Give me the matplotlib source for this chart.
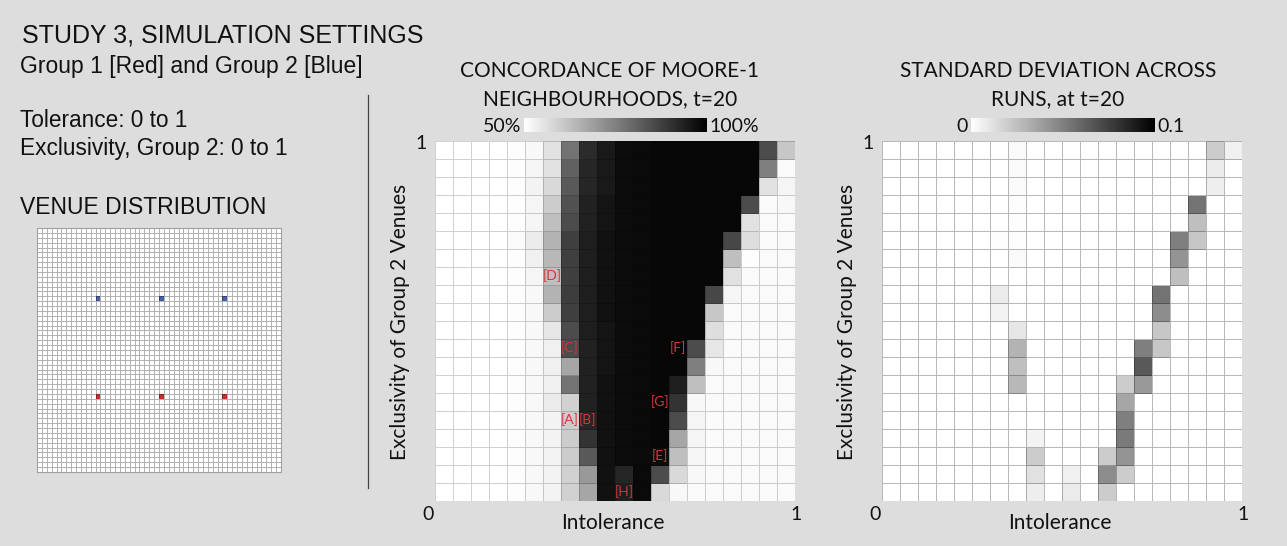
import numpy as np
import matplotlib
matplotlib.use("Agg")
import matplotlib.pyplot as plt
from matplotlib.colors import ListedColormap, Normalize

# Concordance of Moore-1 neighbourhoods (%), rows listed top (exclusivity=1) to bottom
concordance = [
    [50, 50, 50, 50, 50.5, 51.5, 56, 77.5, 91.5, 95, 97.5, 98, 98.5, 98.5, 98.5, 98.5, 98.5, 98.5, 85, 61],
    [50, 50, 50, 50, 50.5, 52, 56, 81, 92.5, 95, 97.5, 98, 98.5, 98.5, 98.5, 98.5, 98.5, 98.5, 75, 51],
    [50, 50, 50, 50, 50.5, 52.5, 57.5, 82.5, 92.5, 95, 97.5, 98, 98.5, 98.5, 98.5, 98.5, 98.5, 98.5, 56, 52],
    [50, 50, 50, 50, 50.5, 52, 60, 84, 93.5, 96, 97.5, 98, 98.5, 98.5, 98.5, 98.5, 98.5, 85, 51, 51.5],
    [50, 50, 50, 50, 50.5, 52, 62.5, 85, 93.5, 96, 97.5, 98, 98.5, 98.5, 98.5, 98.5, 98.5, 56, 51, 51],
    [50, 50, 50, 50, 51, 54, 65, 87.5, 94, 96.5, 97.5, 98, 98.5, 98.5, 98.5, 98.5, 86, 56.5, 51, 51],
    [50, 50, 50, 50, 50.5, 53, 64, 87.5, 94, 96.5, 97.5, 98, 98.5, 98.5, 98.5, 98.5, 62.5, 50.5, 51, 51],
    [50, 50, 50, 50, 50.5, 52, 62.5, 87.5, 94, 96.5, 97.5, 98, 98.5, 98.5, 98.5, 98.5, 56, 51, 51, 51],
    [50, 50, 50, 50, 50.5, 51.5, 65, 88, 94, 96.5, 97.5, 98, 98.5, 98.5, 98.5, 86, 52, 51, 51, 51],
    [50, 50, 50, 50, 50.5, 51.5, 60, 87.5, 94, 96.5, 97.5, 98, 98.5, 98.5, 98.5, 61, 51, 51, 51, 51],
    [50, 50, 50, 50, 50.5, 51.5, 55, 85, 94, 96, 97.5, 98, 98.5, 98.5, 98.5, 56.5, 51, 51, 51, 51],
    [50, 50, 50, 50, 50.5, 51.5, 53, 85, 93.5, 96, 97.5, 98, 98.5, 98.5, 85, 55, 51, 51, 51, 51],
    [50, 50, 50, 50, 50.5, 51.5, 53, 67.5, 93.5, 96, 97.5, 98, 98.5, 98.5, 75, 51.5, 51, 51, 51, 51],
    [50, 50, 50, 50, 50.5, 51.5, 53, 77.5, 93.5, 96.5, 97.5, 98, 98.5, 94, 62.5, 51, 51, 51, 51, 51],
    [50, 50, 50, 50, 50.5, 51.5, 54, 59, 93.5, 96.5, 97.5, 98, 98.5, 90, 51.5, 51, 51, 51, 51, 51],
    [50, 50, 50, 50, 50.5, 51.5, 52.5, 60, 92.5, 96.5, 97.5, 98, 98.5, 85, 52, 51, 51, 51, 51, 51],
    [50, 50, 50, 50, 50.5, 51.5, 52.5, 60, 90, 96.5, 97.5, 98, 98.5, 67.5, 52, 51, 51, 51, 51, 51],
    [50, 50, 50, 50, 50.5, 51.5, 52.5, 60, 82.5, 96.5, 97.5, 98, 97.5, 62.5, 52, 51, 51, 51, 51, 51],
    [50, 50, 50, 50, 50.5, 51.5, 52.5, 59, 70, 96.5, 92.5, 98, 85, 57.5, 51.5, 51, 51, 51, 51, 51],
    [50, 50, 50, 50, 50.5, 51.5, 52.5, 59, 67.5, 96.5, 94, 98, 57.5, 51.5, 51, 51, 51, 51, 51, 51],
]

# Standard deviation across runs, rows listed top to bottom
std_dev = [
    [0, 0, 0, 0, 0, 0, 0, .002, 0, 0, 0, 0, 0, 0, 0, 0, 0, 0, .02, .006],
    [0, 0, 0, 0, 0, 0, 0, .002, 0, 0, 0, 0, 0, 0, 0, 0, 0, 0, .008, 0],
    [0, 0, 0, 0, 0, 0, 0, .002, 0, 0, 0, 0, 0, 0, 0, 0, 0, 0, .007, 0],
    [0, 0, 0, 0, 0, 0, 0, .001, 0, 0, 0, 0, 0, 0, 0, 0, 0, .055, 0, 0],
    [0, 0, 0, 0, 0, 0, 0, .001, 0, 0, 0, 0, 0, 0, 0, 0, 0, .025, 0, 0],
    [0, 0, 0, 0, 0, 0, .001, .001, 0, 0, 0, 0, 0, 0, 0, 0, .05, .022, 0, 0],
    [0, 0, 0, 0, 0, 0, 0, .002, 0, 0, 0, 0, 0, 0, 0, 0, .042, 0, 0, 0],
    [0, 0, 0, 0, 0, 0, 0, 0, 0, 0, 0, 0, 0, 0, 0, 0, .025, 0, 0, 0],
    [0, 0, 0, 0, 0, 0, .008, 0, 0, 0, 0, 0, 0, 0, 0, .055, 0, 0, 0, 0],
    [0, 0, 0, 0, 0, 0, .005, 0, 0, 0, 0, 0, 0, 0, 0, .045, 0, 0, 0, 0],
    [0, 0, 0, 0, 0, 0, 0, .01, 0, 0, 0, 0, 0, 0, 0, .022, 0, 0, 0, 0],
    [0, 0, 0, 0, 0, 0, 0, .03, 0, 0, 0, 0, 0, 0, .05, .022, 0, 0, 0, 0],
    [0, 0, 0, 0, 0, 0, 0, .025, 0, 0, 0, 0, 0, 0, .065, 0, 0, 0, 0, 0],
    [0, 0, 0, 0, 0, 0, 0, .028, 0, 0, 0, 0, 0, .02, .04, 0, 0, 0, 0, 0],
    [0, 0, 0, 0, 0, 0, 0, 0, 0, 0, 0, 0, 0, .035, 0, 0, 0, 0, 0, 0],
    [0, 0, 0, 0, 0, 0, 0, 0, 0, 0, 0, 0, 0, .05, 0, 0, 0, 0, 0, 0],
    [0, 0, 0, 0, 0, 0, 0, 0, .005, 0, 0, 0, 0, .052, 0, 0, 0, 0, 0, 0],
    [0, 0, 0, 0, 0, 0, 0, 0, .02, 0, 0, 0, .02, .042, 0, 0, 0, 0, 0, 0],
    [0, 0, 0, 0, 0, 0, 0, 0, .012, 0, .006, 0, .045, .02, 0, 0, 0, 0, 0, 0],
    [0, 0, 0, 0, 0, 0, 0, 0, .007, 0, .008, 0, .02, 0, 0, 0, 0, 0, 0, 0],
]

# Case labels: (name, column, row from top)
case_names = ["[A]", "[B]", "[C]", "[D]", "[E]", "[F]", "[G]", "[H]"]
case_cols = [7, 8, 7, 6, 12, 13, 12, 10]
case_rows = [15, 15, 11, 7, 17, 11, 14, 19]

# Venue distribution on a 50x50 lattice
lattice_size = 50
venue_cols = [12, 25, 38]
blue_row = 14
red_row = 34

W, H = 1287, 546
BG = "#dddddd"
LEFT_FONT = "Liberation Sans"
FONT = "Lato"
INK = "#111111"


def fx(px):
    return px / W


def fy(py):
    return 1 - py / H


fig = plt.figure(figsize=(W / 100, H / 100), dpi=100, facecolor=BG)

# ---------- left panel text ----------
fig.text(fx(22), fy(42), "STUDY 3, SIMULATION SETTINGS", fontsize=18,
         family=LEFT_FONT, va="baseline", color=INK)
fig.text(fx(20), fy(73), "Group 1 [Red] and Group 2 [Blue]", fontsize=16.5,
         family=LEFT_FONT, va="baseline", color=INK)
fig.text(fx(20), fy(127), "Tolerance: 0 to 1", fontsize=16.3,
         family=LEFT_FONT, va="baseline", color=INK)
fig.text(fx(20), fy(155), "Exclusivity, Group 2: 0 to 1", fontsize=16.3,
         family=LEFT_FONT, va="baseline", color=INK)
fig.text(fx(20), fy(214), "VENUE DISTRIBUTION", fontsize=16.5,
         family=LEFT_FONT, va="baseline", color=INK)

# venue lattice
venues = np.zeros((lattice_size, lattice_size))
for c in venue_cols:
    venues[blue_row, c] = 2
    venues[red_row, c] = 1
ax_v = fig.add_axes([fx(37), fy(472), 244 / W, 244 / H])
ax_v.pcolormesh(np.arange(lattice_size + 1), np.arange(lattice_size + 1), venues,
                cmap=ListedColormap(["white", "#d42828", "#4c5ea8"]),
                vmin=0, vmax=2, edgecolors=(0, 0, 0, 0.3), linewidth=0.45)
ax_v.set_xlim(0, lattice_size)
ax_v.set_ylim(lattice_size, 0)
ax_v.set_xticks([])
ax_v.set_yticks([])
for s in ax_v.spines.values():
    s.set_color("#a0a0a0")
    s.set_linewidth(0.8)

# divider
fig.add_artist(plt.Line2D([fx(368), fx(368)], [fy(95), fy(488)],
                          color="#444444", linewidth=0.9))

edges = np.linspace(0, 1, 21)
cmap = plt.get_cmap("gray_r")


def heat_panel(left, values, norm, edge_alpha, lo_text, hi_text,
               cbar_left, cbar_right, title1, title2, title_x):
    ax = fig.add_axes([fx(left), fy(501), 360 / W, 360 / H])
    mesh = ax.pcolormesh(edges, edges, np.flipud(np.array(values)), cmap=cmap,
                         norm=norm, edgecolors=(0, 0, 0, edge_alpha),
                         linewidth=0.6)
    ax.set_xlim(0, 1)
    ax.set_ylim(0, 1)
    ax.set_xticks([])
    ax.set_yticks([])
    for s in ax.spines.values():
        s.set_visible(False)
    ax.set_facecolor("white")

    center = left + 180
    fig.text(fx(title_x), fy(77), title1, fontsize=15, family=FONT,
             ha="center", va="baseline", color=INK)
    fig.text(fx(title_x), fy(105), title2, fontsize=15, family=FONT,
             ha="center", va="baseline", color=INK)

    cax = fig.add_axes([fx(cbar_left), fy(132), (cbar_right - cbar_left) / W, 14 / H])
    cb = fig.colorbar(mesh, cax=cax, orientation="horizontal")
    cb.set_ticks([])
    cb.outline.set_visible(False)
    fig.text(fx(cbar_left - 3), fy(132), lo_text, fontsize=14, family=FONT,
             ha="right", va="baseline", color=INK)
    fig.text(fx(cbar_right + 2), fy(132), hi_text, fontsize=14, family=FONT,
             ha="left", va="baseline", color=INK)

    # axis annotations
    fig.text(fx(left - 8), fy(149), "1", fontsize=14, family=FONT,
             ha="right", va="baseline", color=INK)
    fig.text(fx(left - 7), fy(520), "0", fontsize=14, family=FONT,
             ha="center", va="baseline", color=INK)
    fig.text(fx(left + 361), fy(520), "1", fontsize=14, family=FONT,
             ha="center", va="baseline", color=INK)
    fig.text(fx(center - 2), fy(529), "Intolerance", fontsize=15, family=FONT,
             ha="center", va="baseline", color=INK)
    fig.text(fx(left - 35), fy(322), "Exclusivity of Group 2 Venues", fontsize=15,
             family=FONT, rotation=90, ha="center", va="center", color=INK)
    return ax


ax_c = heat_panel(435, concordance, Normalize(50, 100), 0.18, "50%", "100%",
                  524, 707, "CONCORDANCE OF MOORE-1", "NEIGHBOURHOODS, t=20", 610)

for name, c, r in zip(case_names, case_cols, case_rows):
    ax_c.text(edges[c] + 0.025, edges[19 - r] + 0.025, name, fontsize=10,
              family=FONT, color="#d8333c", ha="center", va="center")

heat_panel(882, std_dev, Normalize(0, 0.1), 0.28, "0", "0.1",
           971, 1155, "STANDARD DEVIATION ACROSS", "RUNS, at t=20", 1058)

fig.savefig("out.png", dpi=100, facecolor=BG)
